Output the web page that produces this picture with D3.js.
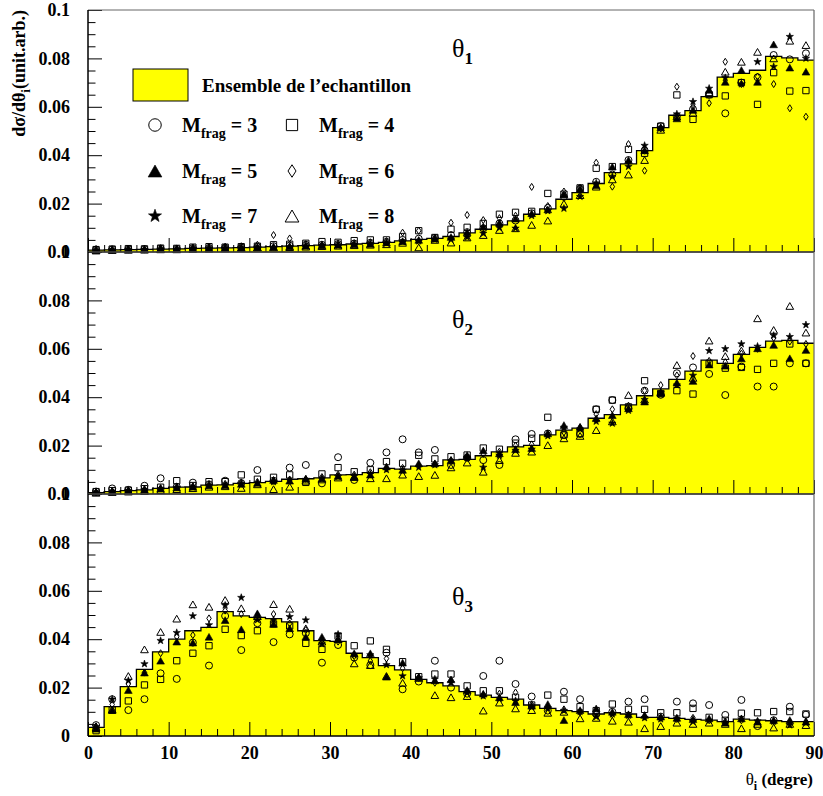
<!DOCTYPE html>
<html><head><meta charset="utf-8">
<script src="https://cdn.jsdelivr.net/npm/d3@7"></script>
<style>
body{margin:0;background:#fff}
svg{display:block}
text{font-family:"Liberation Serif","Times New Roman",serif;font-weight:bold;fill:#000}
</style>
</head><body><svg id="c" width="823" height="796"></svg>
<script>
// ---------- data ----------
const binCentres = [1,3,5,7,9,11,13,15,17,19,21,23,25,27,29,31,33,35,37,39,41,43,45,47,49,51,53,55,57,59,61,63,65,67,69,71,73,75,77,79,81,83,85,87,89];
const binWidth = 2;
const xTickLabels = [0,10,20,30,40,50,60,70,80,90];
const yTickLabels = [0,0.02,0.04,0.06,0.08,0.1];
const seriesNames = ["M3","M4","M5","M6","M7","M8"];
const legendMult = ["3","4","5","6","7","8"];
const panelNames = ["1","2","3"];

// theta1
const hist1 = [0.0008,0.0009,0.0010,0.0011,0.0012,0.0013,0.0015,0.0016,0.0017,0.0018,0.0020,0.0022,0.0024,0.0026,0.0028,0.0030,0.0033,0.0036,0.0040,0.0046,0.0052,0.0056,0.0064,0.0079,0.0094,0.0112,0.0129,0.0156,0.0178,0.0218,0.0245,0.0283,0.0328,0.0364,0.0419,0.0514,0.0565,0.0584,0.0642,0.0723,0.0738,0.0751,0.0808,0.0802,0.0793];
const m3_1 = [0.0010,0.0011,0.0012,0.0012,0.0014,0.0013,0.0016,0.0017,0.0018,0.0020,0.0021,0.0024,0.0026,0.0030,0.0030,0.0033,0.0035,0.0038,0.0042,0.0050,0.0055,0.0058,0.0070,0.0082,0.0098,0.0118,0.0130,0.0160,0.0182,0.0228,0.0262,0.0290,0.0320,0.0380,0.0420,0.0520,0.0560,0.0590,0.0650,0.0573,0.0700,0.0722,0.0814,0.0796,0.0821];
const m4_1 = [0.0010,0.0012,0.0014,0.0013,0.0016,0.0015,0.0020,0.0022,0.0020,0.0022,0.0024,0.0030,0.0032,0.0036,0.0043,0.0040,0.0047,0.0050,0.0050,0.0064,0.0088,0.0060,0.0094,0.0102,0.0118,0.0156,0.0164,0.0168,0.0242,0.0239,0.0265,0.0346,0.0353,0.0424,0.0408,0.0520,0.0649,0.0548,0.0650,0.0645,0.0700,0.0610,0.0741,0.0665,0.0667];
const m5_1 = [0.0008,0.0010,0.0011,0.0010,0.0013,0.0012,0.0015,0.0016,0.0017,0.0018,0.0020,0.0021,0.0024,0.0026,0.0028,0.0030,0.0032,0.0034,0.0040,0.0045,0.0050,0.0056,0.0062,0.0082,0.0105,0.0121,0.0138,0.0160,0.0176,0.0239,0.0262,0.0276,0.0353,0.0380,0.0420,0.0515,0.0552,0.0587,0.0670,0.0703,0.0752,0.0703,0.0858,0.0762,0.0745];
const m6_1 = [0.0012,0.0010,0.0014,0.0012,0.0015,0.0014,0.0018,0.0020,0.0022,0.0024,0.0030,0.0070,0.0056,0.0032,0.0030,0.0034,0.0036,0.0040,0.0045,0.0080,0.0088,0.0058,0.0121,0.0153,0.0132,0.0140,0.0150,0.0269,0.0190,0.0250,0.0265,0.0369,0.0270,0.0446,0.0336,0.0510,0.0683,0.0600,0.0615,0.0786,0.0694,0.0725,0.0694,0.0594,0.0559];
const m7_1 = [0.0007,0.0009,0.0010,0.0010,0.0012,0.0012,0.0014,0.0015,0.0016,0.0017,0.0019,0.0020,0.0022,0.0024,0.0026,0.0027,0.0030,0.0033,0.0036,0.0042,0.0045,0.0052,0.0052,0.0061,0.0077,0.0100,0.0098,0.0150,0.0170,0.0180,0.0229,0.0285,0.0312,0.0353,0.0440,0.0515,0.0570,0.0621,0.0676,0.0720,0.0694,0.0786,0.0766,0.0890,0.0800];
const m8_1 = [0.0006,0.0008,0.0009,0.0010,0.0011,0.0011,0.0013,0.0014,0.0015,0.0016,0.0018,0.0019,0.0020,0.0022,0.0024,0.0026,0.0028,0.0030,0.0032,0.0038,0.0019,0.0050,0.0039,0.0060,0.0070,0.0091,0.0098,0.0112,0.0130,0.0200,0.0235,0.0270,0.0300,0.0320,0.0380,0.0505,0.0560,0.0575,0.0660,0.0745,0.0786,0.0827,0.0800,0.0873,0.0855];

// theta2
const hist2 = [0.0006,0.0010,0.0014,0.0017,0.0023,0.0028,0.0029,0.0037,0.0038,0.0044,0.0047,0.0052,0.0061,0.0063,0.0067,0.0079,0.0080,0.0088,0.0106,0.0103,0.0115,0.0117,0.0141,0.0143,0.0158,0.0174,0.0195,0.0201,0.0244,0.0264,0.0272,0.0313,0.0328,0.0368,0.0406,0.0434,0.0474,0.0508,0.0553,0.0540,0.0577,0.0606,0.0632,0.0635,0.0623];
const m3_2 = [0.0010,0.0023,0.0017,0.0034,0.0065,0.0030,0.0047,0.0040,0.0055,0.0045,0.0099,0.0055,0.0109,0.0120,0.0044,0.0152,0.0058,0.0129,0.0172,0.0226,0.0172,0.0182,0.0120,0.0150,0.0140,0.0120,0.0226,0.0248,0.0250,0.0244,0.0248,0.0350,0.0388,0.0354,0.0427,0.0410,0.0499,0.0523,0.0496,0.0409,0.0526,0.0444,0.0444,0.0540,0.0540];
const m4_2 = [0.0010,0.0014,0.0016,0.0022,0.0028,0.0055,0.0035,0.0051,0.0051,0.0079,0.0061,0.0069,0.0079,0.0048,0.0083,0.0109,0.0092,0.0100,0.0134,0.0127,0.0160,0.0145,0.0154,0.0161,0.0190,0.0185,0.0210,0.0230,0.0317,0.0244,0.0250,0.0350,0.0388,0.0360,0.0468,0.0415,0.0427,0.0413,0.0540,0.0520,0.0523,0.0515,0.0540,0.0620,0.0540];
const m5_2 = [0.0008,0.0012,0.0015,0.0018,0.0022,0.0027,0.0030,0.0036,0.0037,0.0042,0.0046,0.0058,0.0055,0.0063,0.0065,0.0075,0.0072,0.0080,0.0114,0.0100,0.0127,0.0127,0.0140,0.0161,0.0180,0.0168,0.0185,0.0190,0.0250,0.0285,0.0278,0.0313,0.0326,0.0354,0.0382,0.0418,0.0460,0.0467,0.0535,0.0530,0.0560,0.0602,0.0616,0.0561,0.0595];
const m6_2 = [0.0008,0.0012,0.0015,0.0020,0.0024,0.0030,0.0032,0.0040,0.0042,0.0048,0.0050,0.0056,0.0060,0.0062,0.0070,0.0080,0.0080,0.0090,0.0105,0.0108,0.0120,0.0125,0.0140,0.0150,0.0165,0.0175,0.0200,0.0205,0.0250,0.0255,0.0275,0.0330,0.0350,0.0365,0.0427,0.0450,0.0490,0.0570,0.0550,0.0545,0.0580,0.0600,0.0645,0.0630,0.0620];
const m7_2 = [0.0008,0.0011,0.0014,0.0017,0.0022,0.0026,0.0028,0.0035,0.0036,0.0042,0.0045,0.0050,0.0056,0.0060,0.0062,0.0072,0.0074,0.0082,0.0100,0.0098,0.0110,0.0120,0.0135,0.0150,0.0110,0.0160,0.0180,0.0185,0.0240,0.0275,0.0268,0.0300,0.0292,0.0345,0.0390,0.0420,0.0450,0.0490,0.0592,0.0600,0.0620,0.0610,0.0655,0.0650,0.0699];
const m8_2 = [0.0005,0.0008,0.0010,0.0012,0.0016,0.0020,0.0024,0.0030,0.0032,0.0025,0.0040,0.0020,0.0030,0.0055,0.0060,0.0068,0.0070,0.0065,0.0065,0.0080,0.0074,0.0079,0.0110,0.0130,0.0092,0.0140,0.0170,0.0175,0.0202,0.0230,0.0240,0.0264,0.0300,0.0409,0.0390,0.0420,0.0533,0.0480,0.0634,0.0570,0.0593,0.0726,0.0678,0.0777,0.0667];

// theta3
const hist3 = [0.0036,0.0121,0.0204,0.0275,0.0348,0.0400,0.0435,0.0449,0.0514,0.0496,0.0490,0.0485,0.0472,0.0435,0.0394,0.0391,0.0342,0.0324,0.0291,0.0273,0.0234,0.0220,0.0207,0.0183,0.0169,0.0160,0.0152,0.0128,0.0114,0.0105,0.0101,0.0091,0.0096,0.0091,0.0077,0.0077,0.0073,0.0069,0.0066,0.0059,0.0070,0.0066,0.0063,0.0059,0.0059];
const m3_3 = [0.0045,0.0152,0.0107,0.0152,0.0259,0.0236,0.0386,0.0291,0.0496,0.0355,0.0466,0.0388,0.0420,0.0425,0.0303,0.0376,0.0324,0.0293,0.0344,0.0193,0.0225,0.0311,0.0200,0.0175,0.0248,0.0311,0.0215,0.0163,0.0105,0.0183,0.0152,0.0090,0.0100,0.0142,0.0152,0.0080,0.0142,0.0135,0.0128,0.0087,0.0149,0.0041,0.0065,0.0121,0.0088];
const m4_3 = [0.0022,0.0107,0.0145,0.0211,0.0234,0.0311,0.0342,0.0373,0.0441,0.0415,0.0435,0.0463,0.0455,0.0383,0.0358,0.0413,0.0373,0.0393,0.0358,0.0307,0.0245,0.0256,0.0256,0.0207,0.0187,0.0187,0.0160,0.0128,0.0169,0.0152,0.0121,0.0105,0.0132,0.0110,0.0110,0.0096,0.0096,0.0114,0.0077,0.0065,0.0094,0.0096,0.0101,0.0101,0.0091];
const m5_3 = [0.0030,0.0107,0.0190,0.0262,0.0311,0.0390,0.0386,0.0410,0.0479,0.0441,0.0507,0.0463,0.0445,0.0410,0.0410,0.0400,0.0342,0.0342,0.0245,0.0303,0.0245,0.0230,0.0234,0.0190,0.0175,0.0160,0.0140,0.0125,0.0132,0.0066,0.0107,0.0114,0.0100,0.0090,0.0087,0.0080,0.0075,0.0070,0.0073,0.0055,0.0073,0.0059,0.0066,0.0066,0.0059];
const m6_3 = [0.0040,0.0130,0.0215,0.0262,0.0342,0.0410,0.0417,0.0486,0.0518,0.0504,0.0500,0.0504,0.0465,0.0438,0.0395,0.0390,0.0330,0.0310,0.0320,0.0280,0.0240,0.0220,0.0230,0.0185,0.0170,0.0175,0.0180,0.0130,0.0120,0.0110,0.0100,0.0095,0.0090,0.0085,0.0080,0.0075,0.0070,0.0075,0.0065,0.0060,0.0065,0.0060,0.0060,0.0060,0.0060];
const m7_3 = [0.0038,0.0152,0.0229,0.0298,0.0394,0.0427,0.0496,0.0459,0.0540,0.0572,0.0480,0.0480,0.0493,0.0479,0.0380,0.0420,0.0335,0.0335,0.0294,0.0248,0.0240,0.0235,0.0220,0.0180,0.0165,0.0155,0.0146,0.0120,0.0115,0.0105,0.0100,0.0080,0.0090,0.0085,0.0075,0.0070,0.0073,0.0059,0.0065,0.0055,0.0070,0.0062,0.0060,0.0045,0.0055];
const m8_3 = [0.0035,0.0110,0.0248,0.0358,0.0430,0.0485,0.0544,0.0534,0.0562,0.0528,0.0495,0.0545,0.0526,0.0445,0.0390,0.0400,0.0300,0.0293,0.0248,0.0220,0.0240,0.0169,0.0160,0.0165,0.0105,0.0138,0.0114,0.0107,0.0096,0.0100,0.0073,0.0075,0.0063,0.0059,0.0032,0.0041,0.0055,0.0050,0.0055,0.0050,0.0032,0.0050,0.0035,0.0050,0.0045];

const panelHists = [hist1, hist2, hist3];
const panelSeries = [
  [m3_1, m4_1, m5_1, m6_1, m7_1, m8_1],
  [m3_2, m4_2, m5_2, m6_2, m7_2, m8_2],
  [m3_3, m4_3, m5_3, m6_3, m7_3, m8_3]
];

// ---------- layout ----------
const L = 88, R = 814, T0 = 10, PH = 242;
const svg = d3.select("#c");
const x = d3.scaleLinear().domain([0, 90]).range([L, R]);
const thetaLabelY = [57, 328, 605];

// marker shapes
const markerKinds = ["circle","square","tri","diamond","star","otri"];
function markerPath(kind, s) {
  const p = d3.path();
  if (kind === "circle") { p.moveTo(s/2,0); p.arc(0,0,s/2,0,2*Math.PI); }
  else if (kind === "square") { const h=s*0.45; p.rect(-h,-h,2*h,2*h); }
  else if (kind === "tri" || kind === "otri") { const w=s*0.55,h=s*0.48; p.moveTo(0,-h); p.lineTo(w,h); p.lineTo(-w,h); p.closePath(); }
  else if (kind === "diamond") { const w=s*0.32,h=s*0.5; p.moveTo(0,-h); p.lineTo(w,0); p.lineTo(0,h); p.lineTo(-w,0); p.closePath(); }
  else if (kind === "star") {
    const ro=s*0.55, ri=s*0.22;
    for (let i=0;i<10;i++){ const r=i%2?ri:ro; const a=-Math.PI/2+i*Math.PI/5; const px=r*Math.cos(a), py=r*Math.sin(a); if(i===0)p.moveTo(px,py); else p.lineTo(px,py);} p.closePath();
  }
  return p.toString();
}
function styleMarker(sel, kind) {
  const filled = (kind === "tri" || kind === "star");
  sel.attr("fill", filled ? "#000" : "none").attr("stroke", "#000").attr("stroke-width", filled ? 0.6 : 1);
}

panelHists.forEach((hist, pi) => {
  const top = T0 + pi * PH, bottom = top + PH;
  const y = d3.scaleLinear().domain([0, 0.1]).range([bottom, top]);
  const g = svg.append("g");
  const steps = binCentres.map((c, i) => ({x0: c - binWidth/2, v: hist[i]}));
  steps.push({x0: 90, v: hist[hist.length-1]});
  const area = d3.area().curve(d3.curveStepAfter).x(d => x(d.x0)).y0(y(0)).y1(d => y(d.v));
  const line = d3.line().curve(d3.curveStepAfter).x(d => x(d.x0)).y(d => y(d.v));
  g.append("path").attr("d", area(steps)).attr("fill", "#ffff00").attr("stroke", "none");
  g.append("path").attr("d", line(steps)).attr("fill", "none").attr("stroke", "#000").attr("stroke-width", 1.3);

  // x axis ticks (inward)
  const xMinor = binCentres.map(c => c + binWidth/2).filter(v => v < 90 && v % 10 !== 0);
  const gxm = g.append("g").attr("transform", `translate(0,${bottom})`)
    .call(d3.axisBottom(x).tickValues(xMinor).tickSize(-7).tickFormat(""));
  const gx = g.append("g").attr("transform", `translate(0,${bottom})`)
    .call(d3.axisBottom(x).tickValues(xTickLabels).tickSize(-14).tickSizeOuter(0).tickPadding(10).tickFormat(pi === 2 ? d3.format("d") : ""));
  // y axis ticks
  const yMinor = d3.range(0.005, 0.1, 0.005).filter(v => Math.abs(v*50 - Math.round(v*50)) > 1e-6);
  const gym = g.append("g").attr("transform", `translate(${L},0)`)
    .call(d3.axisLeft(y).tickValues(yMinor).tickSize(-7.5).tickFormat(""));
  const gy = g.append("g").attr("transform", `translate(${L},0)`)
    .call(d3.axisLeft(y).tickValues(yTickLabels).tickSize(-14).tickSizeOuter(0).tickPadding(18)
      .tickFormat(d => d === 0 ? "0" : (d === 0.1 ? "0.1" : d3.format(".2f")(d))));
  [gxm, gx, gym, gy].forEach(a => {
    a.attr("font-family", null).attr("font-size", null);
    a.selectAll(".tick line").attr("stroke", "#000").attr("stroke-width", 1);
    a.select(".domain").attr("stroke", "none");
    a.selectAll("text").style("font-size", "18px").attr("fill", "#000");
  });

  // markers
  panelSeries[pi].forEach((ser, si) => {
    const kind = markerKinds[si];
    g.append("g").attr("class", "series-" + seriesNames[si]).selectAll("path").data(ser).join("path")
      .attr("d", markerPath(kind, 7))
      .attr("transform", (d, i) => `translate(${x(binCentres[i])},${y(d)})`)
      .call(styleMarker, kind);
  });

  // frame
  g.append("line").attr("x1", L).attr("x2", R).attr("y1", top).attr("y2", top).attr("stroke", "#666").attr("stroke-width", 1);
  g.append("line").attr("x1", R).attr("x2", R).attr("y1", top).attr("y2", bottom).attr("stroke", "#666").attr("stroke-width", 1.2);
  g.append("line").attr("x1", L).attr("x2", R).attr("y1", bottom).attr("y2", bottom).attr("stroke", "#000").attr("stroke-width", 1.5);
  g.append("line").attr("x1", L).attr("x2", L).attr("y1", top).attr("y2", bottom).attr("stroke", "#000").attr("stroke-width", 1.5);

  // theta label
  const t = g.append("text").attr("x", 452).attr("y", thetaLabelY[pi]);
  t.append("tspan").text("θ").style("font-size", "26px").style("font-weight", "normal");
  t.append("tspan").text(panelNames[pi]).attr("dy", 7).style("font-size", "17px");
});

// axis titles
const yt = svg.append("text").attr("transform", "translate(25,10) rotate(-90)").attr("text-anchor", "end").style("font-size", "18px");
yt.append("tspan").text("dσ/dθ");
yt.append("tspan").text("i").attr("dy", 5).style("font-size", "13px");
yt.append("tspan").text("(unit.arb.)").attr("dy", -5);

const xt = svg.append("text").attr("x", 813).attr("y", 785).attr("text-anchor", "end").style("font-size", "17px");
xt.append("tspan").text("θ").style("font-weight", "normal");
xt.append("tspan").text("i").attr("dy", 5).style("font-size", "12px");
xt.append("tspan").text(" (degre)").attr("dy", -5);

// legend
svg.append("rect").attr("x", 133).attr("y", 69).attr("width", 55).attr("height", 32).attr("fill", "#ffff00").attr("stroke", "#000").attr("stroke-width", 1);
svg.append("text").attr("x", 202).attr("y", 92).style("font-size", "19px").text("Ensemble de l’echantillon");
const legCols = [155, 292], legRows = [125, 171, 216];
seriesNames.forEach((name, si) => {
  const col = si % 2, row = Math.floor(si / 2);
  const kind = markerKinds[si];
  svg.append("path").attr("d", markerPath(kind, 12.5))
    .attr("transform", `translate(${legCols[col]},${legRows[row]})`).call(styleMarker, kind);
  const tx = svg.append("text").attr("x", legCols[col] + 27).attr("y", legRows[row] + 7).style("font-size", "20px");
  tx.append("tspan").text("M");
  tx.append("tspan").text("frag").attr("dy", 6).style("font-size", "14px");
  tx.append("tspan").text(" = " + legendMult[si]).attr("dy", -6);
});
</script>
</body></html>
